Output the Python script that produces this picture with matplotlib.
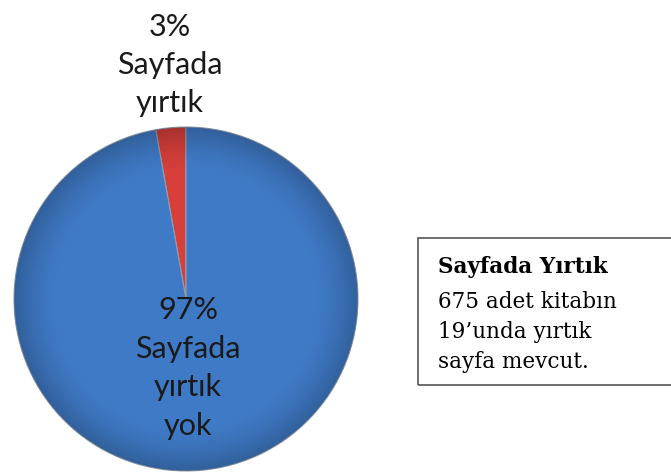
import matplotlib
matplotlib.use("Agg")
import matplotlib.pyplot as plt
import numpy as np
from matplotlib.patches import Rectangle, Circle

categories = ["Sayfada\nyırtık", "Sayfada\nyırtık\nyok"]
counts = [19, 656]
colors = ["#D63F3A", "#3F7AC6"]
box_title = "Sayfada Yırtık"
box_lines = ["675 adet kitabın", "19’unda yırtık", "sayfa mevcut."]

W, H = 671, 474
fig = plt.figure(figsize=(W / 100, H / 100), dpi=100)

cx, cy, r = 186, 299, 172
ax = fig.add_axes([(cx - r) / W, (H - cy - r) / H, 2 * r / W, 2 * r / H])
wedges, _ = ax.pie(counts, colors=colors, startangle=90, counterclock=True,
                   radius=1.0,
                   wedgeprops=dict(edgecolor="#8f9db0", linewidth=0.8))
# subtle edge shading (bevel look)
n = 400
g = np.linspace(-1, 1, n)
X, Y = np.meshgrid(g, g)
R = np.sqrt(X ** 2 + Y ** 2)
shade = np.zeros((n, n, 4))
shade[..., 3] = np.clip((R - 0.75) / 0.25, 0, 1) ** 1.5 * 0.22
im = ax.imshow(shade, extent=(-1, 1, -1, 1), origin="lower", zorder=3,
               interpolation="bilinear")
im.set_clip_path(Circle((0, 0), 1.0, transform=ax.transData))
ax.set_xlim(-1, 1)
ax.set_ylim(-1, 1)
ax.set_aspect("equal")
ax.axis("off")

total = sum(counts)
pcts = [round(100 * c / total) for c in counts]

font = "Lato"
fig.text(170 / W, 1 - 65 / H, f"{pcts[0]}%\n{categories[0]}", ha="center", va="center",
         fontsize=22, family=font, color="#1a1a1a", linespacing=1.45, zorder=5)
fig.text(188 / W, 1 - 368 / H, f"{pcts[1]}%\n{categories[1]}", ha="center", va="center",
         fontsize=22, family=font, color="#1a1a1a", linespacing=1.45, zorder=5)

fig.patches.append(Rectangle((418 / W, 1 - 385 / H), 300 / W, 147 / H,
                             transform=fig.transFigure, fill=False,
                             edgecolor="#555555", linewidth=1.2))
serif = "DejaVu Serif"
fig.text(438 / W, 1 - 267 / H, box_title, ha="left", va="center", fontsize=15.5,
         family=serif, weight="bold", color="black")
for i, line in enumerate(box_lines):
    fig.text(438 / W, 1 - (302 + 30 * i) / H, line, ha="left", va="center",
             fontsize=15.5, family=serif, color="black")

fig.savefig("out.png", dpi=100)
